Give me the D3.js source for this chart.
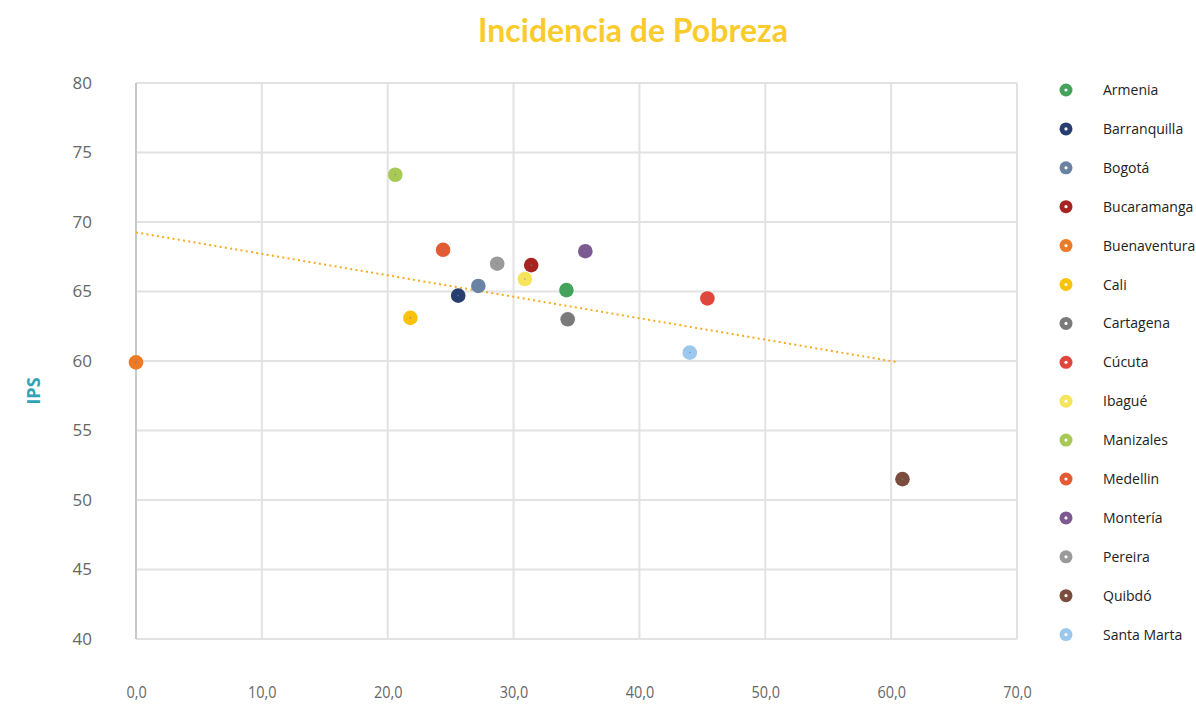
<!DOCTYPE html>
<html>
<head>
<meta charset="utf-8">
<script src="https://cdn.jsdelivr.net/npm/d3@7"></script>
<style>
  body { margin: 0; background: #fff; }
  svg { display: block; }
</style>
</head>
<body>
<svg id="chart" width="1196" height="705"></svg>
<script>
// city names, colours and values
var cities = ['Armenia', 'Barranquilla', 'Bogotá', 'Bucaramanga', 'Buenaventura', 'Cali', 'Cartagena',
              'Cúcuta', 'Ibagué', 'Manizales', 'Medellin', 'Montería', 'Pereira', 'Quibdó', 'Santa Marta'];
var colors = ['#43a35a', '#263f6e', '#6a83a3', '#a6231f', '#ec7a26', '#f9c20c', '#7a7a7a',
              '#e0463c', '#f6e45c', '#a8c956', '#e35b33', '#7d5a92', '#9a9a9a', '#7a4d3e', '#9cc8ee'];
var pobreza = [34.2, 25.6, 27.2, 31.4, 0.0, 21.8, 34.3, 45.4, 30.9, 20.6, 24.4, 35.7, 28.7, 60.9, 44.0];
var ips     = [65.1, 64.7, 65.4, 66.9, 59.9, 63.1, 63.0, 64.5, 65.9, 73.4, 68.0, 67.9, 67.0, 51.5, 60.6];

// linear trend line (endpoints as read)
var trendX = [0.0, 60.6];
var trendY = [69.25, 59.9];

var xTicks = [0, 10, 20, 30, 40, 50, 60, 70];
var yTicks = [40, 45, 50, 55, 60, 65, 70, 75, 80];

var svg = d3.select('#chart');

var x = d3.scaleLinear().domain([0, 70]).range([136, 1017]);
var y = d3.scaleLinear().domain([40, 80]).range([639, 83]);

var fmtX = function(d){ return d3.format('.1f')(d).replace('.', ','); };

// GRID
var grid = svg.append('g');
grid.selectAll('line.gx')
  .data(xTicks).enter().append('line')
    .attr('x1', function(d){ return x(d); })
    .attr('x2', function(d){ return x(d); })
    .attr('y1', y(80)).attr('y2', y(40))
    .attr('stroke', '#e2e2e2')
    .attr('stroke-width', 2);
grid.selectAll('line.gy')
  .data(yTicks).enter().append('line')
    .attr('x1', x(0)).attr('x2', x(70))
    .attr('y1', function(d){ return y(d); })
    .attr('y2', function(d){ return y(d); })
    .attr('stroke', '#e2e2e2')
    .attr('stroke-width', 2);
// left axis line drawn again on top so it stays darker
grid.append('line')
  .attr('x1', x(0)).attr('x2', x(0))
  .attr('y1', y(80)).attr('y2', y(40))
  .attr('stroke', '#c8c8c8').attr('stroke-width', 2);

// AXES (labels only)
var yAxis = d3.axisLeft(y).tickValues(yTicks).tickSize(0).tickPadding(0);
svg.append('g')
  .attr('transform', 'translate(92,0)')
  .call(yAxis)
  .call(function(g){
    g.select('.domain').remove();
    g.selectAll('text')
      .attr('fill', '#666')
      .style('font-family', '"Open Sans", sans-serif')
      .style('font-size', '17px');
  });

var xAxis = d3.axisBottom(x).tickValues(xTicks).tickFormat(fmtX).tickSize(0).tickPadding(0);
svg.append('g')
  .attr('transform', 'translate(0,686)')
  .call(xAxis)
  .call(function(g){
    g.select('.domain').remove();
    // narrow the labels, the original uses a condensed face
    g.selectAll('text')
      .attr('fill', '#666')
      .attr('transform', 'scale(0.85,1)')
      .style('font-family', '"Open Sans", sans-serif')
      .style('font-size', '17px');
  });

// TREND LINE
svg.append('line')
  .attr('x1', x(trendX[0])).attr('y1', y(trendY[0]))
  .attr('x2', x(trendX[1])).attr('y2', y(trendY[1]))
  .attr('stroke', '#f7ab1f')
  .attr('stroke-width', 2)
  .attr('stroke-dasharray', '2,3.3');

// POINTS
var pts = svg.append('g').selectAll('g')
  .data(cities).enter().append('g')
    .attr('transform', function(d, i){ return 'translate(' + x(pobreza[i]) + ',' + y(ips[i]) + ')'; });
pts.append('circle')
  .attr('r', 7.3)
  .attr('fill', function(d, i){ return colors[i]; });
pts.append('circle')
  .attr('r', 0.8)
  .attr('fill', '#6a83a3')
  .attr('opacity', 0.7);

// TITLE
svg.append('text')
  .attr('x', 633).attr('y', 42)
  .attr('text-anchor', 'middle')
  .attr('fill', '#f9cb2c')
  .style('font-family', 'Lato, "Open Sans", sans-serif')
  .style('font-weight', 'bold')
  .style('font-size', '32px')
  .text('Incidencia de Pobreza');

// Y TITLE
svg.append('text')
  .attr('transform', 'translate(40,391) rotate(-90)')
  .attr('text-anchor', 'middle')
  .attr('fill', '#2fa3b5')
  .style('font-family', '"Open Sans", sans-serif')
  .style('font-weight', 'bold')
  .style('font-size', '18px')
  .text('IPS');

// LEGEND
var leg = svg.append('g').selectAll('g')
  .data(cities).enter().append('g')
    .attr('transform', function(d, i){ return 'translate(1066,' + (90 + i * 38.9) + ')'; });
leg.append('circle')
  .attr('r', 6.5)
  .attr('fill', function(d, i){ return colors[i]; });
leg.append('circle')
  .attr('r', 1.6)
  .attr('fill', '#fff');
leg.append('text')
  .attr('x', 37).attr('y', 5)
  .attr('fill', '#222')
  .style('font-family', '"Open Sans", sans-serif')
  .style('font-size', '14px')
  .text(function(d){ return d; });
</script>
</body>
</html>
